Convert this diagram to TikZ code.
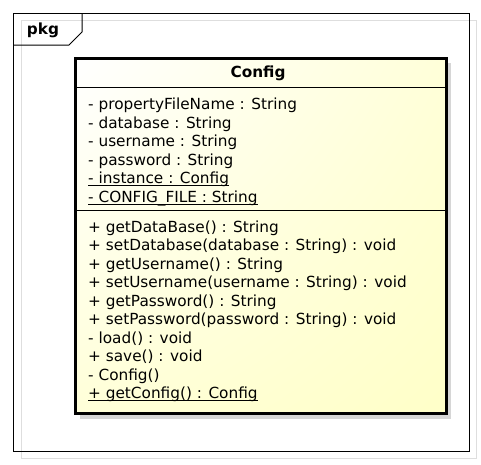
\documentclass[tikz,border=0pt]{standalone}
\usepackage{fontspec}
\setmainfont{DejaVu Sans}
\usepackage{tikz}
\usetikzlibrary{positioning, shadings}

\definecolor{classfill}{RGB}{255,255,200}
\definecolor{shadowgray}{RGB}{214,214,214}
\definecolor{framegray}{RGB}{222,222,222}

% membro estatico (sublinhado)
\newcommand{\staticmember}[1]{\setbox0\hbox{#1}\rlap{\rule[-2.2pt]{\wd0}{0.8pt}}\box0}

\begin{document}
\begin{tikzpicture}[x=1pt,y=-1pt,
  member/.style={anchor=north west, inner sep=0pt, align=left,
    font=\fontsize{15.3}{18.5}\selectfont},
  heading/.style={inner sep=0pt, font=\fontsize{15.3}{18.5}\selectfont\bfseries},
  classbox/.style={draw, line width=3pt, anchor=north west,
    minimum width=371pt, minimum height=355pt,
    upper left=white, upper right=classfill!70, lower left=classfill!70,
    lower right=classfill}]

\useasboundingbox (0,0) rectangle (481,464);
\fill[white] (0,0) rectangle (481,464);

% Pacote
\draw[framegray] (21,20) rectangle (476,458);
\draw[line width=1pt] (13,13) rectangle (469,451);
\draw[line width=1pt] (13,45) -- (69,45) -- (82,32) -- (82,13);
\node[heading] (pkg) at (43,30) {pkg};

% Classe
\fill[shadowgray] (80,63) rectangle (451,419);
\node[classbox] (config) at (74,57) {};
\node[heading] (name) at (258,73) {Config};
\draw[line width=1pt] (74,87) -- (445,87);
\draw[line width=1pt] (74,210) -- (445,210);

% atributos
\node[member] (attrs) at (88,98) {%
  - propertyFileName : String\\
  - database : String\\
  - username : String\\
  - password : String\\
  \staticmember{- instance : Config}\\
  \staticmember{- CONFIG\_FILE : String}};

% operacoes
\node[member] (ops) at (88,220.5) {%
  + getDataBase() : String\\
  + setDatabase(database : String) : void\\
  + getUsername() : String\\
  + setUsername(username : String) : void\\
  + getPassword() : String\\
  + setPassword(password : String) : void\\
  - load() : void\\
  + save() : void\\
  - Config()\\
  \staticmember{+ getConfig() : Config}};

\end{tikzpicture}
\end{document}
